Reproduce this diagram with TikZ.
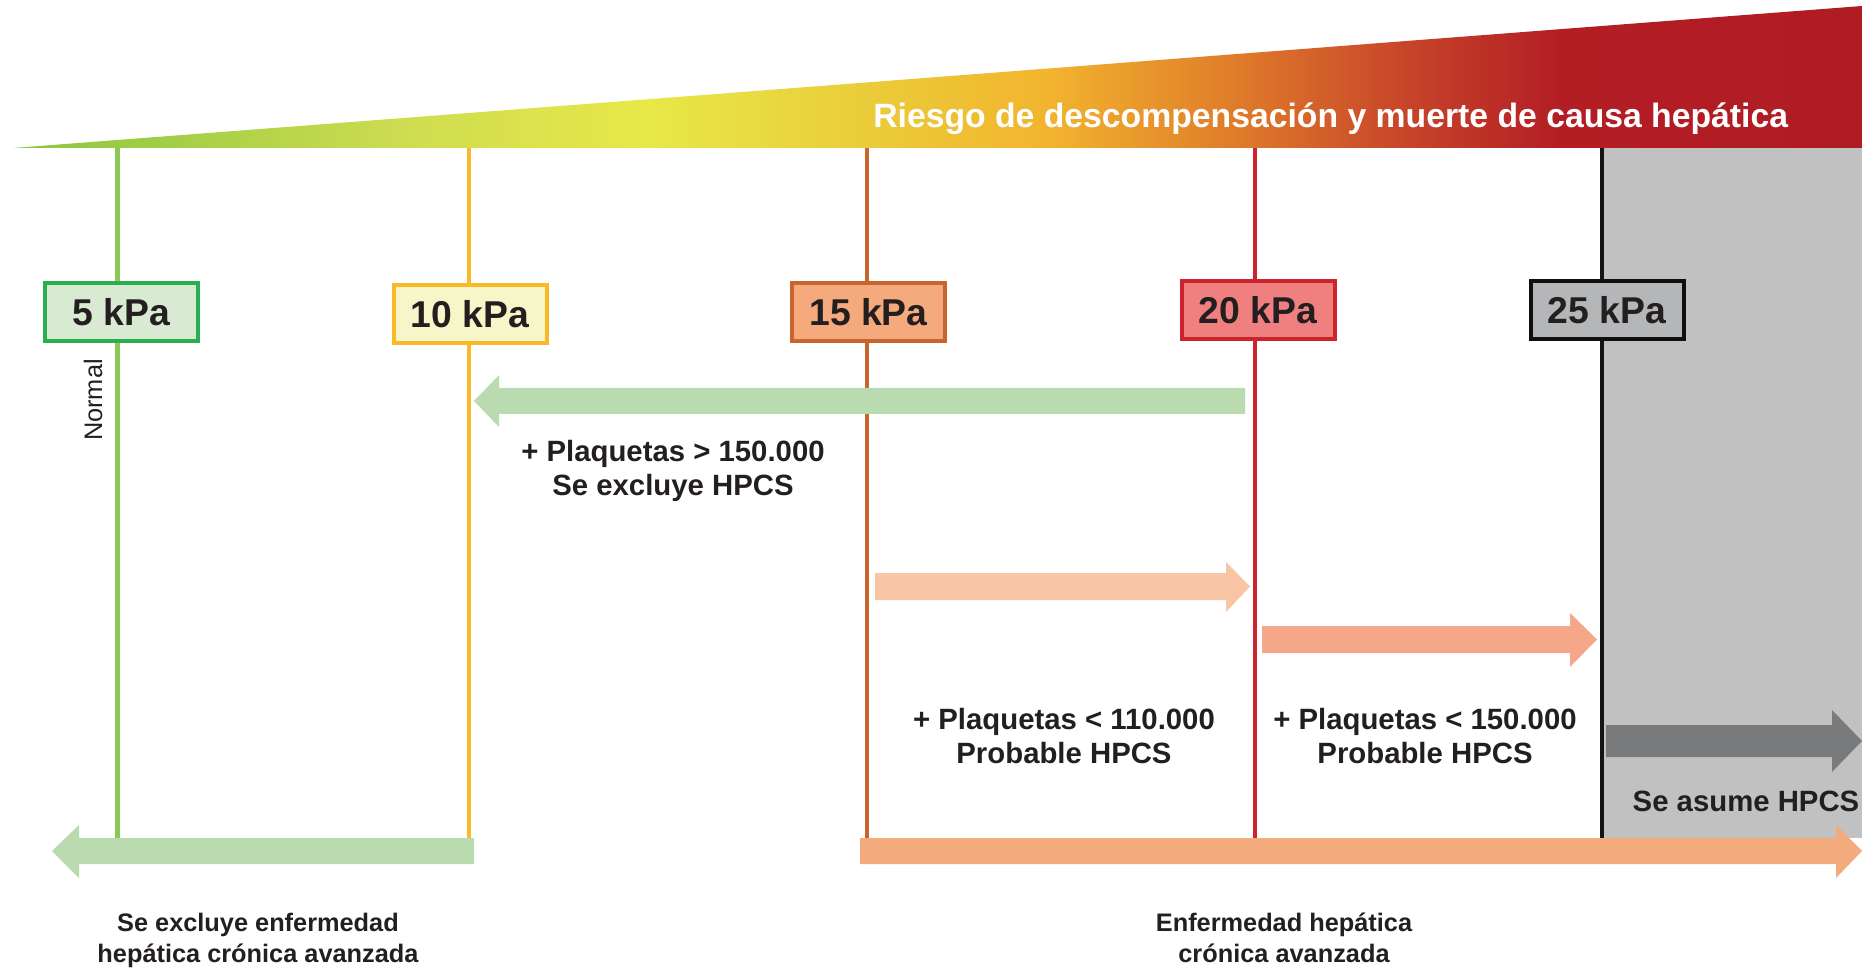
\documentclass[tikz,border=0pt]{standalone}
\usepackage{fontspec}
\setmainfont{Liberation Sans}

% text and line colours
\definecolor{ink}{RGB}{35,31,32}
\definecolor{zonegray}{RGB}{193,193,193}
\definecolor{ln5}{RGB}{140,200,85}
\definecolor{ln10}{RGB}{250,185,40}
\definecolor{ln15}{RGB}{200,100,45}
\definecolor{ln20}{RGB}{205,35,45}
\definecolor{ln25}{RGB}{20,20,20}
% box fills and borders
\definecolor{fl5}{RGB}{217,234,211}
\definecolor{bd5}{RGB}{40,175,80}
\definecolor{fl10}{RGB}{246,246,200}
\definecolor{bd10}{RGB}{250,185,40}
\definecolor{fl15}{RGB}{245,170,125}
\definecolor{bd15}{RGB}{200,100,45}
\definecolor{fl20}{RGB}{240,128,128}
\definecolor{bd20}{RGB}{205,35,45}
\definecolor{fl25}{RGB}{180,182,184}
\definecolor{bd25}{RGB}{15,15,15}
% block arrows
\definecolor{arrgreen}{RGB}{186,219,176}
\definecolor{arrpeach}{RGB}{248,198,164}
\definecolor{arrsalmon}{RGB}{245,167,138}
\definecolor{arrgray}{RGB}{120,122,124}
\definecolor{arrorange}{RGB}{243,170,125}
% risk wedge gradient stops
\definecolor{g0}{RGB}{141,198,63}
\definecolor{g1}{RGB}{160,205,70}
\definecolor{g2}{RGB}{205,220,80}
\definecolor{g3}{RGB}{232,232,72}
\definecolor{g4}{RGB}{234,205,58}
\definecolor{g5}{RGB}{242,180,46}
\definecolor{g6}{RGB}{222,122,42}
\definecolor{g7}{RGB}{200,70,42}
\definecolor{g8}{RGB}{179,30,37}
\definecolor{g9}{RGB}{176,28,36}

\pgfdeclarehorizontalshading{riskgrad}{100bp}{%
  color(0bp)=(g0); color(25bp)=(g0); color(28.7bp)=(g1); color(35.4bp)=(g2);
  color(42.2bp)=(g3); color(47.9bp)=(g4); color(53bp)=(g5); color(58.2bp)=(g6);
  color(62.5bp)=(g7); color(66.8bp)=(g8); color(75bp)=(g9); color(100bp)=(g9)}

\begin{document}
\begin{tikzpicture}[x=0.75pt,y=-0.75pt,
  every node/.style={text=ink, inner sep=0pt},
  kbox/.style={draw, line width=3pt, minimum width=114.75pt, minimum height=43.5pt,
    font=\bfseries\fontsize{28}{32}\selectfont},
  vline/.style={line width=3.2pt},
  lbl/.style={align=center, font=\bfseries\fontsize{22}{25.1}\selectfont},
  foot/.style={align=center, font=\bfseries\fontsize{19}{23.2}\selectfont}]

\useasboundingbox (0,0) rectangle (1862,969);

% risk wedge with its title
\shade[shading=riskgrad] (13,148) -- (1862,148) -- (1862,6) -- cycle;
\node[text=white, anchor=base west, font=\bfseries\fontsize{25.3}{30}\selectfont]
  (title) at (873,127.5) {Riesgo de descompensación y muerte de causa hepática};

% zone beyond 25 kPa
\fill[zonegray] (1602,148) rectangle (1862,838);

% threshold lines
\coordinate (t5) at (117.5,148);  \coordinate (b5) at (117.5,838);
\coordinate (t10) at (469,148);   \coordinate (b10) at (469,838);
\coordinate (t15) at (867,148);   \coordinate (b15) at (867,838);
\coordinate (t20) at (1255,148);  \coordinate (b20) at (1255,838);
\coordinate (t25) at (1602,148);  \coordinate (b25) at (1602,838);
\draw[vline, ln5] (t5) -- (b5);
\draw[vline, ln10] (t10) -- (b10);
\draw[vline, ln15] (t15) -- (b15);
\draw[vline, ln20] (t20) -- (b20);
\draw[vline, ln25] (t25) -- (b25);

% threshold boxes
\node[kbox, draw=bd5, fill=fl5] (k5) at (121.5,312.5) {5 kPa};
\node[kbox, draw=bd10, fill=fl10] (k10) at (470,314) {10 kPa};
\node[kbox, draw=bd15, fill=fl15] (k15) at (868.5,312) {15 kPa};
\node[kbox, draw=bd20, fill=fl20] (k20) at (1258,310) {20 kPa};
\node[kbox, draw=bd25, fill=fl25] (k25) at (1607,310) {25 kPa};

\node[rotate=90, font=\fontsize{19}{22}\selectfont] (normal) at (93,400) {Normal};

% block arrows
\fill[arrgreen] (1245,388) -- (499,388) -- (499,375) -- (474,401) -- (499,427)
  -- (499,414) -- (1245,414) -- cycle;
\fill[arrpeach] (875,573) -- (1226,573) -- (1226,562) -- (1250,586.5) -- (1226,612)
  -- (1226,600) -- (875,600) -- cycle;
\fill[arrsalmon] (1262,626) -- (1570,626) -- (1570,613) -- (1597,639.5) -- (1570,667)
  -- (1570,653) -- (1262,653) -- cycle;
\fill[arrgray] (1606,725) -- (1832,725) -- (1832,710) -- (1862,741) -- (1832,772)
  -- (1832,757) -- (1606,757) -- cycle;
\fill[arrgreen] (474,838) -- (79,838) -- (79,825) -- (52,851) -- (79,878)
  -- (79,864) -- (474,864) -- cycle;
\fill[arrorange] (860,838) -- (1836,838) -- (1836,825) -- (1862,851) -- (1836,878)
  -- (1836,864) -- (860,864) -- cycle;

% labels
\node[lbl] (excl) at (673,471) {+ Plaquetas > 150.000\\Se excluye HPCS};
\node[lbl] (prob1) at (1064,736) {+ Plaquetas < 110.000\\Probable HPCS};
\node[lbl] (prob2) at (1425,736) {+ Plaquetas < 150.000\\Probable HPCS};
\node[lbl] (asume) at (1746,801) {Se asume HPCS};
\node[foot] (footl) at (258,940.5) {Se excluye enfermedad\\hepática crónica avanzada};
\node[foot] (footr) at (1284,938) {Enfermedad hepática\\crónica avanzada};
\end{tikzpicture}
\end{document}
